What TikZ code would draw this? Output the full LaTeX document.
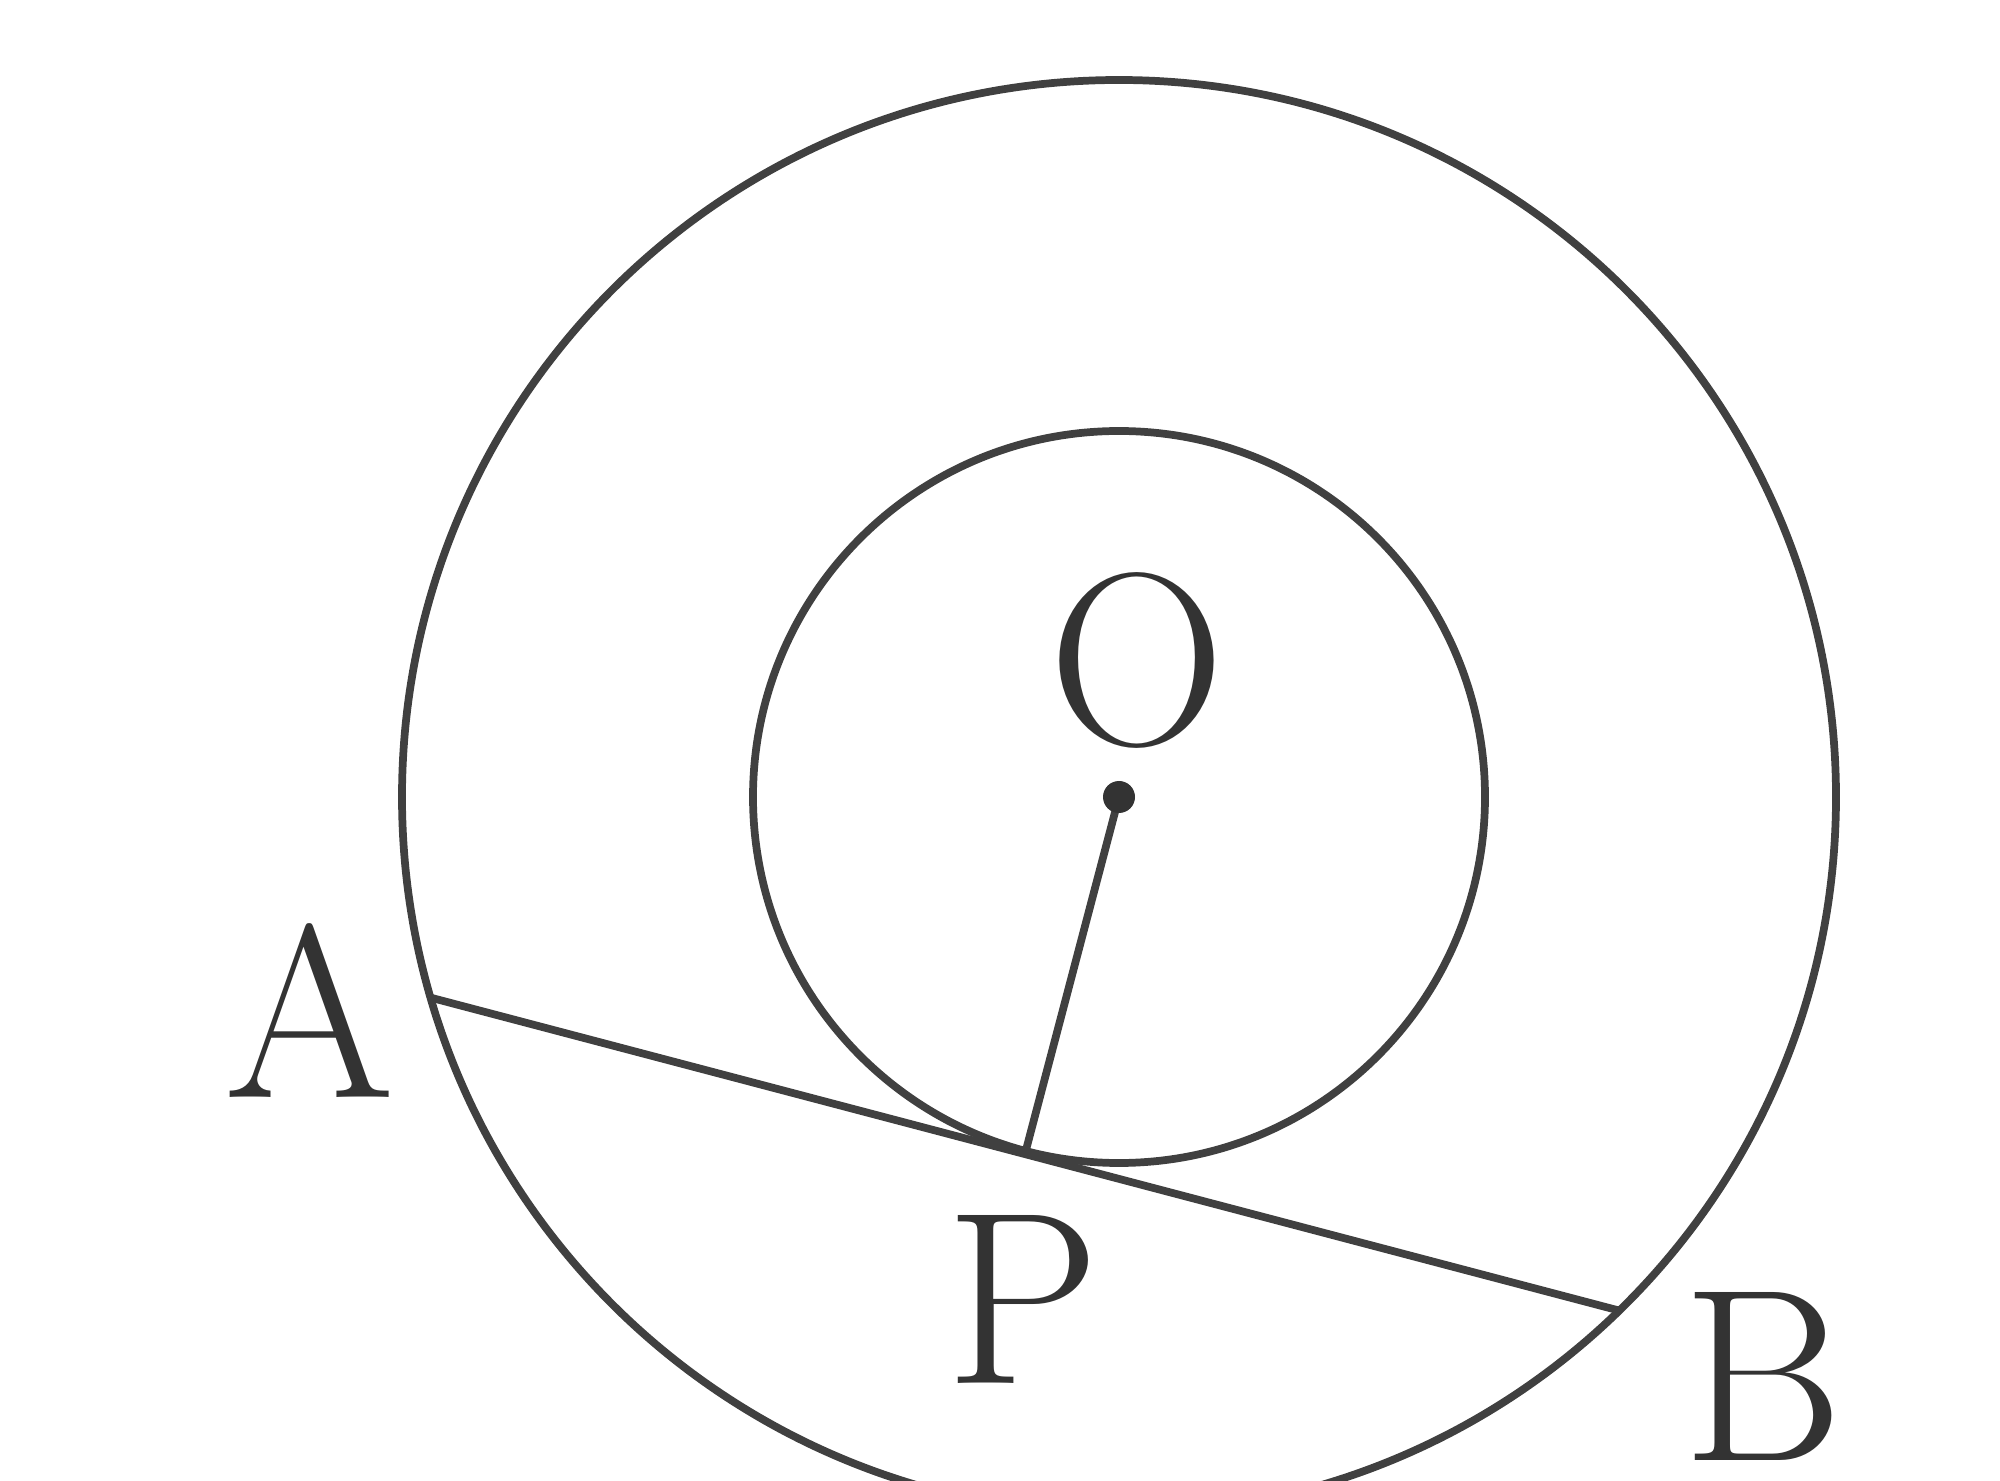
\documentclass[tikz,border=0pt]{standalone}
\usetikzlibrary{calc}
\begin{document}
\begin{tikzpicture}[x=1cm,y=1cm,
  geo/.style={line width=2.2pt, draw=black!75},
  lbl/.style={anchor=base, inner sep=0pt, text=black!80, font=\fontsize{70}{70}\selectfont}]
\useasboundingbox (0,0) rectangle (20,14.8);
\coordinate (O) at (11.19,6.83);
\coordinate (A) at (4.32,4.82);
\coordinate (B) at (16.17,1.70);
\coordinate (P) at ($(A)!(O)!(B)$);
\begin{scope}
\clip (0,0) rectangle (20,14.8);
\draw[geo] (O) circle (7.17);
\end{scope}
\draw[geo] (O) circle (3.66);
\draw[geo] (A) -- (B);
\draw[geo] (O) -- (P);
\fill[black!80] (O) circle (0.16);
\node[lbl] (labO) at (11.37,7.35) {O};
\node[lbl] (labA) at (3.10,3.83) {A};
\node[lbl] (labP) at (10.23,0.97) {P};
\node[lbl] (labB) at (17.63,0.20) {B};
\end{tikzpicture}
\end{document}
